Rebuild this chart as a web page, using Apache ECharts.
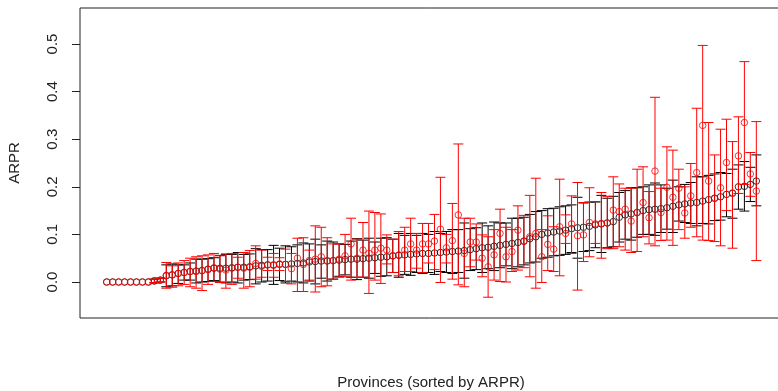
<!DOCTYPE html>
<html>
<head>
<meta charset="utf-8">
<script src="https://cdn.jsdelivr.net/npm/echarts@6/dist/echarts.min.js"></script>
<style>
  html, body { margin: 0; padding: 0; background: #fff; }
  #chart { width: 778px; height: 391px; }
</style>
</head>
<body>
<div id="chart"></div>
<script>
// provinces sorted by ARPR (black) with comparison estimates (red)
const blackVal = [
  0, 0, 0, 0, 0, 0, 0, 0, 0.002, 0.004,
  0.013, 0.015, 0.018, 0.020, 0.022, 0.023, 0.024, 0.027, 0.029, 0.029,
  0.029, 0.030, 0.031, 0.031, 0.032, 0.034, 0.035, 0.036, 0.036, 0.037,
  0.037, 0.038, 0.039, 0.040, 0.042, 0.043, 0.044, 0.044, 0.045, 0.046,
  0.047, 0.048, 0.048, 0.049, 0.050, 0.051, 0.052, 0.053, 0.055, 0.056,
  0.057, 0.058, 0.059, 0.060, 0.060, 0.061, 0.062, 0.063, 0.064, 0.065,
  0.066, 0.068, 0.070, 0.072, 0.073, 0.075, 0.077, 0.079, 0.081, 0.083,
  0.086, 0.091, 0.095, 0.100, 0.103, 0.105, 0.107, 0.109, 0.112, 0.114,
  0.115, 0.117, 0.120, 0.122, 0.124, 0.127, 0.136, 0.141, 0.143, 0.146,
  0.150, 0.152, 0.153, 0.154, 0.156, 0.159, 0.162, 0.164, 0.166, 0.167,
  0.170, 0.173, 0.176, 0.179, 0.184, 0.187, 0.200, 0.201, 0.205, 0.212
]
const blackLow = [
  0, 0, 0, 0, 0, 0, 0, 0, -0.002, 0.000,
  -0.010, -0.008, -0.003, 0.004, 0.004, -0.002, 0.000, 0.001, 0.003, 0.000,
  -0.002, 0.000, -0.002, 0.004, 0.005, -0.004, 0.000, 0.002, -0.005, 0.003,
  -0.002, 0.002, 0.000, -0.002, 0.002, -0.004, 0.008, 0.002, 0.006, 0.012,
  0.015, 0.010, 0.005, 0.010, 0.008, 0.018, 0.012, 0.013, 0.020, 0.010,
  0.016, 0.014, 0.020, 0.018, 0.020, 0.016, 0.022, 0.020, 0.018, 0.020,
  0.008, 0.024, 0.026, 0.020, 0.028, 0.024, 0.030, 0.034, 0.028, 0.032,
  0.036, 0.040, 0.042, 0.050, 0.052, 0.055, 0.056, 0.058, 0.062, 0.050,
  0.064, 0.066, 0.072, 0.062, 0.072, 0.074, 0.084, 0.090, 0.088, 0.094,
  0.100, 0.100, 0.098, 0.104, 0.111, 0.104, 0.128, 0.125, 0.123, 0.118,
  0.123, 0.122, 0.129, 0.130, 0.137, 0.134, 0.153, 0.149, 0.169, 0.160
]
const blackHigh = [
  0, 0, 0, 0, 0, 0, 0, 0, 0.006, 0.008,
  0.036, 0.038, 0.036, 0.036, 0.040, 0.048, 0.048, 0.049, 0.051, 0.056,
  0.058, 0.058, 0.062, 0.058, 0.059, 0.070, 0.068, 0.068, 0.077, 0.071,
  0.076, 0.074, 0.078, 0.082, 0.080, 0.090, 0.078, 0.086, 0.084, 0.080,
  0.079, 0.086, 0.091, 0.088, 0.092, 0.084, 0.092, 0.093, 0.090, 0.102,
  0.098, 0.102, 0.098, 0.102, 0.100, 0.106, 0.102, 0.106, 0.110, 0.110,
  0.124, 0.112, 0.114, 0.124, 0.118, 0.126, 0.124, 0.124, 0.134, 0.134,
  0.136, 0.142, 0.148, 0.150, 0.154, 0.155, 0.158, 0.160, 0.162, 0.178,
  0.166, 0.168, 0.168, 0.182, 0.176, 0.180, 0.188, 0.192, 0.198, 0.198,
  0.200, 0.204, 0.208, 0.204, 0.197, 0.214, 0.200, 0.205, 0.209, 0.221,
  0.221, 0.224, 0.227, 0.230, 0.228, 0.237, 0.246, 0.253, 0.241, 0.267
]
const redVal = [
  0, 0, 0, 0, 0, 0, 0, 0, 0.003, 0.004,
  0.014, 0.015, 0.018, 0.020, 0.022, 0.022, 0.024, 0.026, 0.030, 0.027,
  0.025, 0.029, 0.031, 0.029, 0.031, 0.039, 0.033, 0.036, 0.035, 0.038,
  0.037, 0.028, 0.050, 0.037, 0.045, 0.048, 0.053, 0.045, 0.045, 0.048,
  0.055, 0.080, 0.050, 0.067, 0.060, 0.067, 0.071, 0.067, 0.055, 0.057,
  0.067, 0.080, 0.067, 0.080, 0.080, 0.086, 0.111, 0.072, 0.087, 0.141,
  0.060, 0.084, 0.084, 0.050, 0.032, 0.057, 0.102, 0.053, 0.064, 0.109,
  0.085, 0.095, 0.102, 0.053, 0.079, 0.069, 0.116, 0.102, 0.122, 0.097,
  0.099, 0.125, 0.122, 0.123, 0.124, 0.151, 0.148, 0.153, 0.128, 0.146,
  0.167, 0.135, 0.233, 0.146, 0.199, 0.178, 0.197, 0.145, 0.181, 0.230,
  0.329, 0.212, 0.176, 0.198, 0.251, 0.186, 0.265, 0.335, 0.227, 0.191
]
const redLow = [
  0, 0, 0, 0, 0, 0, 0, 0, -0.001, 0.000,
  -0.013, -0.011, -0.008, -0.005, -0.010, -0.013, -0.018, -0.005, 0.001, -0.001,
  -0.013, -0.005, 0.008, -0.013, -0.010, 0.006, 0.010, 0.024, 0.010, 0.024,
  0.001, -0.004, -0.020, -0.020, 0.004, -0.021, -0.010, -0.008, 0.006, 0.010,
  0.011, 0.004, 0.010, 0.010, -0.024, 0.004, -0.003, 0.038, 0.020, 0.013,
  0.022, 0.022, 0.029, 0.020, 0.040, 0.026, -0.001, 0.040, 0.006, -0.006,
  -0.010, 0.032, 0.046, 0.011, -0.032, 0.004, 0.001, 0.000, 0.022, 0.025,
  0.030, 0.011, -0.013, -0.001, 0.024, 0.022, 0.013, 0.081, 0.060, -0.017,
  0.043, 0.053, 0.081, 0.050, 0.070, 0.070, 0.074, 0.067, 0.062, 0.064,
  0.095, 0.080, 0.076, 0.087, 0.088, 0.077, 0.110, 0.092, 0.115, 0.095,
  0.088, 0.087, 0.085, 0.076, 0.150, 0.071, 0.186, 0.205, 0.180, 0.045
]
const redHigh = [
  0, 0, 0, 0, 0, 0, 0, 0, 0.006, 0.008,
  0.041, 0.034, 0.040, 0.045, 0.050, 0.053, 0.055, 0.057, 0.060, 0.055,
  0.059, 0.060, 0.052, 0.062, 0.066, 0.076, 0.067, 0.052, 0.060, 0.051,
  0.069, 0.060, 0.092, 0.093, 0.067, 0.118, 0.115, 0.093, 0.080, 0.080,
  0.100, 0.134, 0.090, 0.125, 0.149, 0.146, 0.143, 0.099, 0.090, 0.106,
  0.115, 0.134, 0.102, 0.123, 0.123, 0.142, 0.220, 0.100, 0.165, 0.290,
  0.134, 0.134, 0.122, 0.099, 0.095, 0.110, 0.153, 0.115, 0.110, 0.160,
  0.140, 0.182, 0.218, 0.110, 0.139, 0.116, 0.216, 0.141, 0.181, 0.209,
  0.167, 0.198, 0.169, 0.188, 0.180, 0.221, 0.206, 0.197, 0.197, 0.237,
  0.242, 0.190, 0.388, 0.197, 0.284, 0.277, 0.237, 0.200, 0.249, 0.365,
  0.497, 0.335, 0.267, 0.321, 0.342, 0.295, 0.347, 0.463, 0.272, 0.337
]
const yTicks = [0, 0.1, 0.2, 0.3, 0.4, 0.5]

const ids = blackVal.map((_, i) => i + 1)

const chart = echarts.init(document.getElementById('chart'), null, { renderer: 'canvas' })

// vertical segment with flat caps, like R's arrows(angle = 90, code = 3)
function whiskers(color) {
  return function (params, api) {
    const x = api.value(0)
    const lo = api.value(1)
    const hi = api.value(2)
    if (lo === hi) return null
    const top = api.coord([x, hi])
    const bot = api.coord([x, lo])
    const cap = 5
    const style = { stroke: color, lineWidth: 1 }
    return {
      type: 'group',
      children: [
        { type: 'line', shape: { x1: top[0], y1: top[1], x2: bot[0], y2: bot[1] }, style },
        { type: 'line', shape: { x1: top[0] - cap, y1: top[1], x2: top[0] + cap, y2: top[1] }, style },
        { type: 'line', shape: { x1: bot[0] - cap, y1: bot[1], x2: bot[0] + cap, y2: bot[1] }, style }
      ]
    }
  }
}

const font = 'Liberation Sans, Arial, sans-serif'

const option = {
  animation: false,
  grid: {
    left: 80,
    top: 8,
    width: 702,
    height: 310,
    show: true,
    borderColor: '#222',
    borderWidth: 1,
    containLabel: false,
    outerBoundsMode: 'none'
  },
  xAxis: {
    type: 'value',
    min: -3.48,
    max: 114.31,
    axisLine: { show: false, onZero: false },
    axisTick: { show: false },
    axisLabel: { show: false },
    splitLine: { show: false },
    name: 'Provinces (sorted by ARPR)',
    nameLocation: 'middle',
    nameGap: 57,
    nameTextStyle: { fontSize: 15, color: '#222', fontFamily: font }
  },
  yAxis: {
    type: 'value',
    min: -0.07563,
    max: 0.57563,
    axisLine: { show: false, onZero: false },
    splitLine: { show: false },
    axisTick: {
      show: true,
      inside: false,
      length: 8,
      customValues: yTicks,
      lineStyle: { color: '#222', width: 1 }
    },
    axisLabel: {
      show: true,
      customValues: yTicks,
      rotate: 90,
      margin: 20,
      fontSize: 15,
      color: '#222',
      fontFamily: font,
      formatter: v => v.toFixed(1)
    },
    name: 'ARPR',
    nameLocation: 'middle',
    nameRotate: 90,
    nameGap: 58,
    nameTextStyle: { fontSize: 15, color: '#222', fontFamily: font }
  },
  series: [
    {
      type: 'custom',
      renderItem: whiskers('#000'),
      data: ids.map((id, i) => [id, blackLow[i], blackHigh[i]]),
      encode: { x: 0, y: [1, 2] },
      z: 2
    },
    {
      type: 'scatter',
      data: ids.map((id, i) => [id, blackVal[i]]),
      symbol: 'circle',
      symbolSize: 6.5,
      itemStyle: { color: 'rgba(0,0,0,0)', borderColor: '#000', borderWidth: 1 },
      z: 3
    },
    {
      type: 'custom',
      renderItem: whiskers('#ff0000'),
      data: ids.map((id, i) => [id, redLow[i], redHigh[i]]),
      encode: { x: 0, y: [1, 2] },
      z: 4
    },
    {
      type: 'scatter',
      data: ids.map((id, i) => [id, redVal[i]]),
      symbol: 'circle',
      symbolSize: 6.5,
      itemStyle: { color: 'rgba(0,0,0,0)', borderColor: '#ff0000', borderWidth: 1 },
      z: 5
    }
  ]
}

chart.setOption(option)
</script>
</body>
</html>
